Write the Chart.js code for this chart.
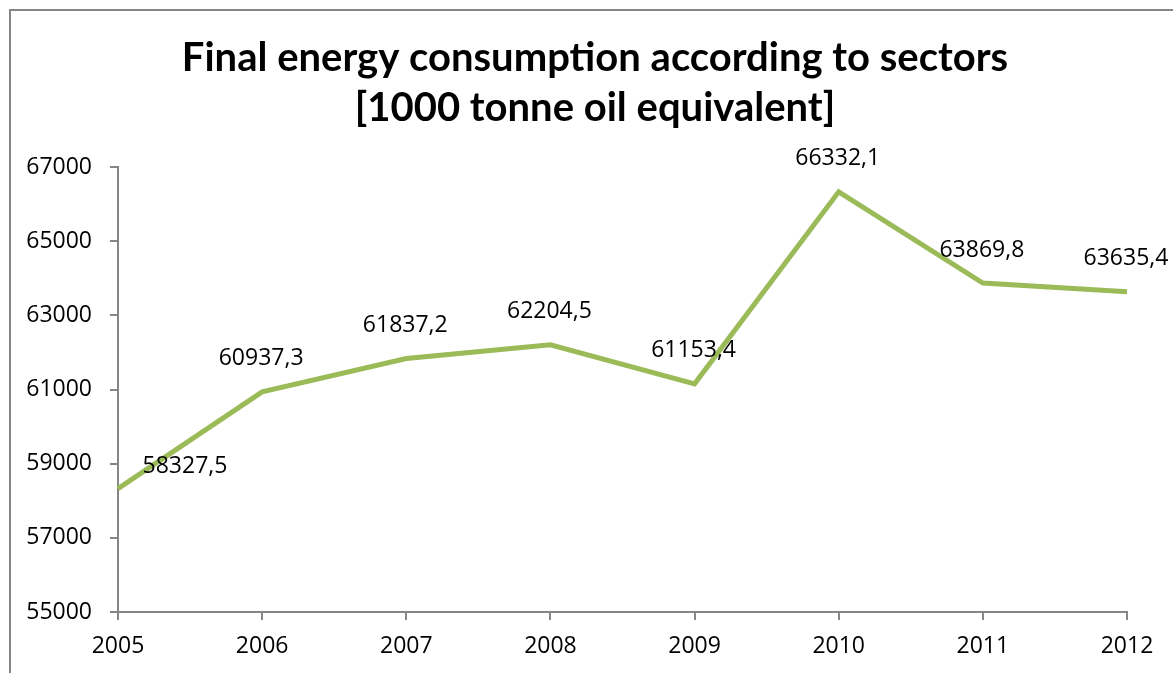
<!DOCTYPE html>
<html>
<head>
<meta charset="utf-8">
<script src="https://cdn.jsdelivr.net/npm/chart.js@4"></script>
<style>
    html, body { margin: 0; padding: 0; background: #fff; overflow: hidden; }
    #wrap { position: relative; width: 1173px; height: 673px; }
</style>
</head>
<body>
<div id="wrap"><canvas id="chart"></canvas></div>
<script>
    // Values
    const years = ['2005', '2006', '2007', '2008', '2009', '2010', '2011', '2012'];
    const consumption = [58327.5, 60937.3, 61837.2, 62204.5, 61153.4, 66332.1, 63869.8, 63635.4];
    const titleLines = ['Final energy consumption according to sectors', '[1000 tonne oil equivalent]'];

    const TITLE_FONT = 'Lato, "Open Sans", sans-serif';
    const FONT = '"Open Sans", Lato, sans-serif';
    const AXIS_GREY = '#868686';
    const LINE_GREEN = '#9bbb59';

    // Comma as decimal separator, like the original
    const fmt = v => v.toFixed(1).replace('.', ',');

    // Frame + title, drawn by hand so the title sits where the original has it
    const framePlugin = {
        id: 'frame',
        beforeDraw(chart) {
            const ctx = chart.ctx;
            ctx.save();
            ctx.fillStyle = '#fff';
            ctx.fillRect(0, 0, chart.width, chart.height);
            ctx.strokeStyle = AXIS_GREY;
            ctx.lineWidth = 2;
            ctx.strokeRect(10, 10, chart.width + 50, chart.height + 50);
            ctx.fillStyle = '#000';
            ctx.font = `bold 40px ${TITLE_FONT}`;
            ctx.textAlign = 'center';
            ctx.textBaseline = 'middle';
            titleLines.forEach((line, i) => ctx.fillText(line, 595, 58 + i * 50));
            ctx.restore();
        }
    };

    // Data labels above each point (the first one was nudged aside in the original)
    const labelPlugin = {
        id: 'pointLabels',
        afterDatasetsDraw(chart) {
            const ctx = chart.ctx;
            const meta = chart.getDatasetMeta(0);
            ctx.save();
            ctx.fillStyle = '#000';
            ctx.font = `23px ${FONT}`;
            ctx.textAlign = 'center';
            ctx.textBaseline = 'middle';
            meta.data.forEach((pt, i) => {
                let dx = -1, dy = -33;
                if (i === 0) { dx = 67; dy = -22; }
                ctx.fillText(fmt(consumption[i]), pt.x + dx, pt.y + dy);
            });
            ctx.restore();
        }
    };

    new Chart(document.getElementById('chart'), {
        type: 'line',
        data: {
            labels: years,
            datasets: [{
                data: consumption,
                borderColor: LINE_GREEN,
                borderWidth: 5,
                pointRadius: 0,
                tension: 0,
                borderJoinStyle: 'miter'
            }]
        },
        options: {
            responsive: true,
            maintainAspectRatio: false,
            animation: false,
            events: [],
            layout: { padding: { top: 167, right: 46, left: 0, bottom: 0 } },
            plugins: {
                legend: { display: false },
                title: { display: false },
                tooltip: { enabled: false }
            },
            scales: {
                x: {
                    offset: false,
                    grid: {
                        drawOnChartArea: false,
                        drawTicks: true,
                        tickLength: 8,
                        color: AXIS_GREY,
                        lineWidth: 2
                    },
                    border: { color: AXIS_GREY, width: 2 },
                    ticks: {
                        color: '#000',
                        font: { family: FONT, size: 23 },
                        padding: 13,
                        maxRotation: 0
                    },
                    afterFit(scale) { scale.height = 61; }
                },
                y: {
                    min: 55000,
                    max: 67000,
                    grid: {
                        drawOnChartArea: false,
                        drawTicks: true,
                        tickLength: 8,
                        color: AXIS_GREY,
                        lineWidth: 2
                    },
                    border: { color: AXIS_GREY, width: 2 },
                    ticks: {
                        stepSize: 2000,
                        color: '#000',
                        font: { family: FONT, size: 23 },
                        padding: 18,
                        callback: v => String(v)
                    },
                    afterFit(scale) { scale.width = 118; }
                }
            }
        },
        plugins: [framePlugin, labelPlugin]
    });
</script>
</body>
</html>
